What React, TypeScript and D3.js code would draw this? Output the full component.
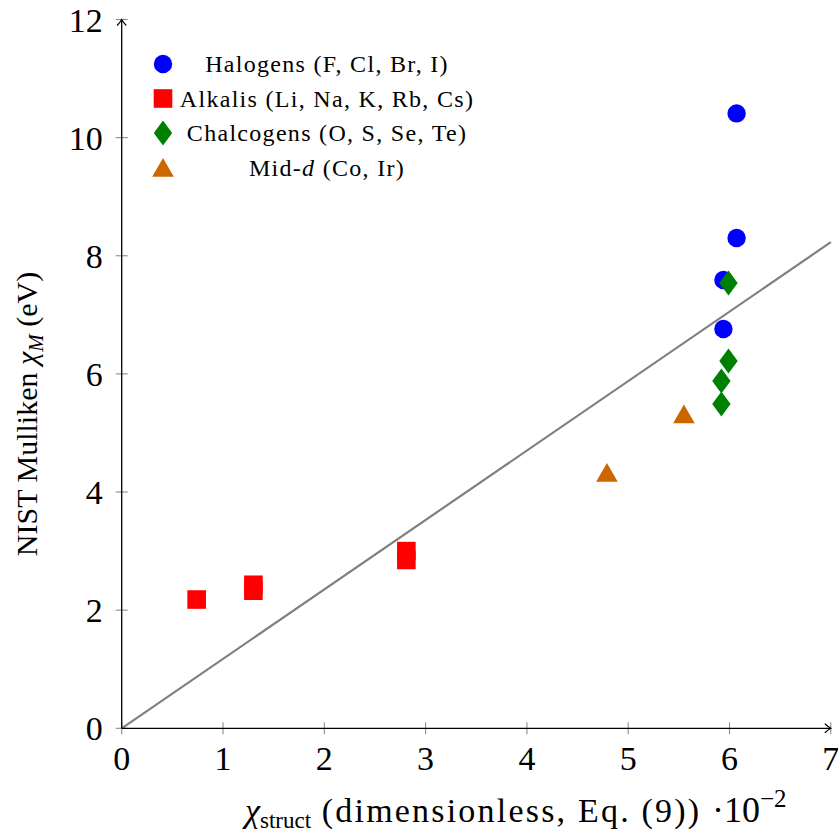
import React from 'react';
import * as d3 from 'd3';

// values (x in units of 1e-2, y in eV)
const halogenX = [6.07, 6.07, 5.94, 5.94];
const halogenY = [10.41, 8.3, 7.59, 6.76];
const alkaliX = [2.81, 2.81, 1.3, 1.3, 0.74];
const alkaliY = [3.0, 2.85, 2.43, 2.33, 2.18];
const chalcogenX = [5.99, 5.99, 5.92, 5.92];
const chalcogenY = [7.54, 6.22, 5.88, 5.49];
const midDX = [5.55, 4.79];
const midDY = [5.27, 4.28];
const fitX = [0, 7];
const fitY = [0, 8.23];
const xTicks = [0, 1, 2, 3, 4, 5, 6, 7];
const yTicks = [0, 2, 4, 6, 8, 10, 12];

const W = 838;
const H = 832;
const FONT = '"Liberation Serif", "Times New Roman", serif';

const BLUE = '#0000ff';
const RED = '#ff0000';
const GREEN = '#008000';
const ORANGE = '#cc6600';

type Shape = 'circle' | 'square' | 'diamond' | 'triangle';

const markerPath = (shape: Shape): string => {
  if (shape === 'circle') {
    const r = 9.2;
    return `M${r},0A${r},${r} 0 1,1 ${-r},0A${r},${r} 0 1,1 ${r},0Z`;
  }
  if (shape === 'square') {
    const s = 9.3;
    return `M${-s},${-s}H${s}V${s}H${-s}Z`;
  }
  if (shape === 'diamond') {
    return 'M0,-12.5L9.2,0L0,12.5L-9.2,0Z';
  }
  const r = 12.5;
  const hw = r * Math.sqrt(3) / 2;
  return `M0,${-r}L${hw},${r / 2}L${-hw},${r / 2}Z`;
};

const groups: { xs: number[]; ys: number[]; shape: Shape; color: string }[] = [
  { xs: halogenX, ys: halogenY, shape: 'circle', color: BLUE },
  { xs: alkaliX, ys: alkaliY, shape: 'square', color: RED },
  { xs: chalcogenX, ys: chalcogenY, shape: 'diamond', color: GREEN },
  { xs: midDX, ys: midDY, shape: 'triangle', color: ORANGE },
];

const legendItems: { shape: Shape; color: string; label: React.ReactNode }[] = [
  { shape: 'circle', color: BLUE, label: 'Halogens (F, Cl, Br, I)' },
  { shape: 'square', color: RED, label: 'Alkalis (Li, Na, K, Rb, Cs)' },
  { shape: 'diamond', color: GREEN, label: 'Chalcogens (O, S, Se, Te)' },
  {
    shape: 'triangle',
    color: ORANGE,
    label: (
      <>
        Mid-<tspan fontStyle="italic">d</tspan> (Co, Ir)
      </>
    ),
  },
];

export default function App() {
  const x = d3.scaleLinear().domain([0, 7]).range([121.7, 830.8]);
  const y = d3.scaleLinear().domain([0, 12]).range([728.3, 19.5]);

  const fitLine = d3
    .line<number>()
    .x((d) => x(d))
    .y((_, i) => y(fitY[i]));

  const x0 = x(0);
  const y0 = y(0);
  const xEnd = x(7);
  const yTop = y(12);

  return (
    <>
      <style>{`body{margin:0}`}</style>
      <svg width={W} height={H} style={{ display: 'block', background: '#fff' }} fontFamily={FONT}>
        {/* regression line */}
        <path d={fitLine(fitX) || ''} fill="none" stroke="#808080" strokeWidth={2.2} />

        {/* ticks */}
        {xTicks.map((t) => (
          <line key={'xt' + t} x1={x(t)} x2={x(t)} y1={y0 - 6} y2={y0 + 6} stroke="#8c8c8c" strokeWidth={1.1} />
        ))}
        {yTicks.map((t) => (
          <line key={'yt' + t} x1={x0 - 6} x2={x0 + 6} y1={y(t)} y2={y(t)} stroke="#8c8c8c" strokeWidth={1.1} />
        ))}

        {/* axes with arrow heads */}
        <line x1={x0} x2={xEnd} y1={y0} y2={y0} stroke="#000" strokeWidth={1.3} />
        <line x1={x0} x2={x0} y1={y0} y2={yTop} stroke="#000" strokeWidth={1.3} />
        <path
          d={`M${xEnd - 6},${y0 - 4.5}Q${xEnd - 2},${y0 - 1} ${xEnd},${y0}Q${xEnd - 2},${y0 + 1} ${xEnd - 6},${y0 + 4.5}`}
          fill="none"
          stroke="#000"
          strokeWidth={1.2}
        />
        <path
          d={`M${x0 - 4.5},${yTop + 6}Q${x0 - 1},${yTop + 2} ${x0},${yTop}Q${x0 + 1},${yTop + 2} ${x0 + 4.5},${yTop + 6}`}
          fill="none"
          stroke="#000"
          strokeWidth={1.2}
        />

        {/* tick labels */}
        {xTicks.map((t) => (
          <text key={'xl' + t} x={x(t)} y={y0 + 42} textAnchor="middle" fontSize={34} fill="#000">
            {t}
          </text>
        ))}
        {yTicks.map((t) => (
          <text key={'yl' + t} x={x0 - 19} y={y(t) + 12} textAnchor="end" fontSize={34} fill="#000">
            {t}
          </text>
        ))}

        {/* markers */}
        {groups.map((g, gi) =>
          g.xs.map((v, i) => (
            <path
              key={`m${gi}-${i}`}
              d={markerPath(g.shape)}
              transform={`translate(${x(v)},${y(g.ys[i])})`}
              fill={g.color}
            />
          ))
        )}

        {/* legend */}
        {legendItems.map((item, i) => {
          const cy = 64 + i * 34.5;
          return (
            <g key={'lg' + i}>
              <path d={markerPath(item.shape)} transform={`translate(163,${cy + (item.shape === 'triangle' ? 3 : 0)})`} fill={item.color} />
              <text x={327} y={cy + 8} textAnchor="middle" fontSize={24} letterSpacing={1.3} fill="#000">
                {item.label}
              </text>
            </g>
          );
        })}

        {/* axis labels */}
        <text x={245} y={822} fontSize={34} fill="#000">
          <tspan fontStyle="italic">χ</tspan>
          <tspan fontSize={23} dy={6}>struct</tspan>
          <tspan dy={-6} letterSpacing={2.2}> (dimensionless, Eq. (9))</tspan>
        </text>
        <text x={712} y={822} fontSize={36} fill="#000">
          ·10<tspan fontSize={25} dy={-15}>−2</tspan>
        </text>
        <text transform="translate(37,414) rotate(-90)" textAnchor="middle" fontSize={30} fill="#000">
          NIST Mulliken <tspan fontStyle="italic">χ</tspan>
          <tspan fontStyle="italic" fontSize={21} dy={6}>M</tspan>
          <tspan dy={-6}> (eV)</tspan>
        </text>
      </svg>
    </>
  );
}
